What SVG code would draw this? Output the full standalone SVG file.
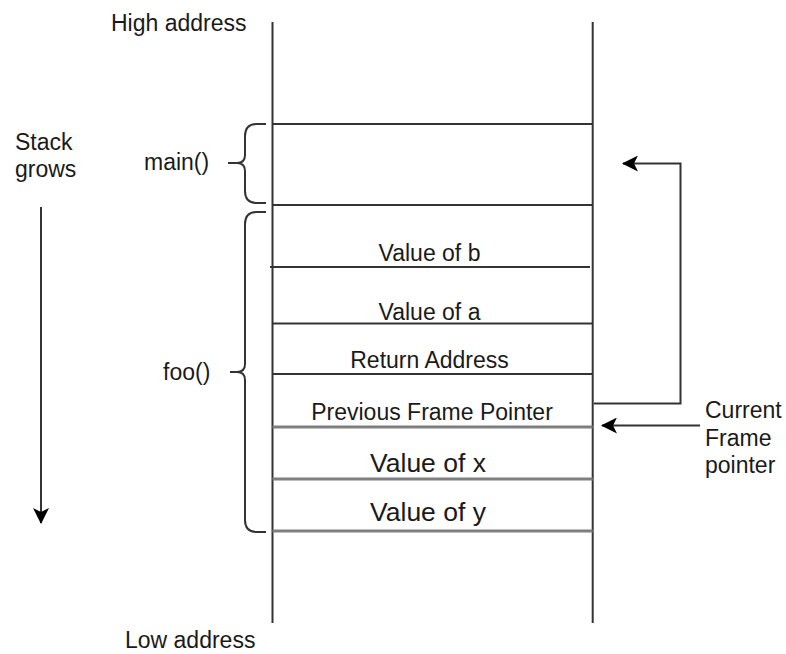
<svg xmlns="http://www.w3.org/2000/svg" width="786" height="654" viewBox="0 0 786 654">
<style>
text{font-family:"Liberation Sans",Arial,sans-serif;font-size:23px;fill:#1a1a1a}
.c{text-anchor:middle}
.ln{stroke:#333;stroke-width:2;fill:none}
.gl{stroke:#7f7f7f;stroke-width:3;fill:none}
.br{stroke:#333;stroke-width:2;fill:none}
</style>
<defs>
<marker id="ah" viewBox="0 0 16 16" refX="15" refY="8" markerWidth="16" markerHeight="16" markerUnits="userSpaceOnUse" orient="auto">
<path d="M0,0 L16,8 L0,16 L4,8 Z" fill="#000"/>
</marker>
</defs>
<rect width="786" height="654" fill="#fff"/>
<g id="stack">
<line class="ln" x1="272.5" y1="22" x2="272.5" y2="623"/>
<line class="ln" x1="592.7" y1="22" x2="592.7" y2="623"/>
</g>
<g id="main-frame">
<line class="ln" x1="272.5" y1="124" x2="592.7" y2="124"/>
<line class="ln" x1="272.5" y1="205" x2="592.7" y2="205"/>
</g>
<g id="value-b">
<line class="ln" x1="270" y1="267" x2="590" y2="267"/>
<text class="c" x="429.5" y="261">Value of b</text>
</g>
<g id="value-a">
<line class="ln" x1="272.5" y1="323.5" x2="592.7" y2="323.5"/>
<text class="c" x="429.5" y="320">Value of a</text>
</g>
<g id="return-address">
<line class="ln" x1="272.5" y1="374" x2="592.7" y2="374"/>
<text class="c" x="429.5" y="368">Return Address</text>
</g>
<g id="prev-frame-pointer">
<line class="gl" x1="272.5" y1="427" x2="592.7" y2="427"/>
<text class="c" x="432" y="420">Previous Frame Pointer</text>
</g>
<g id="value-x">
<line class="gl" x1="272.5" y1="479" x2="592.7" y2="479"/>
<text class="c" x="428" y="471.5" style="font-size:26.5px">Value of x</text>
</g>
<g id="value-y">
<line class="gl" x1="272.5" y1="531" x2="592.7" y2="531"/>
<text class="c" x="428" y="521" style="font-size:26.5px">Value of y</text>
</g>
<g id="high-address"><text x="111" y="31">High address</text></g>
<g id="low-address"><text x="125" y="648">Low address</text></g>
<g id="stack-grows">
<text x="15" y="150">Stack</text>
<text x="15" y="177">grows</text>
</g>
<g id="main-label">
<text x="144" y="170">main()</text>
<path class="br" d="M266,124 H257 Q245,124 245,136 V155 Q245,163 237,163 H228 M237,163 Q245,163 245,171 V191 Q245,203 257,203 H266"/>
</g>
<g id="foo-label">
<text x="163" y="380">foo()</text>
<path class="br" d="M266,212 H257 Q245,212 245,224 V364 Q245,372 237,372 H230 M237,372 Q245,372 245,380 V520 Q245,532 257,532 H266"/>
</g>
<g id="current-frame-pointer">
<text x="705" y="418">Current</text>
<text x="705" y="446">Frame</text>
<text x="705" y="473">pointer</text>
</g>
<g id="connectors">
<line class="ln" x1="41" y1="207" x2="41" y2="523" marker-end="url(#ah)"/>
<path class="ln" d="M593.7,403.5 H680.5 V163.5 H623" marker-end="url(#ah)"/>
<line class="ln" x1="700" y1="425.5" x2="602" y2="425.5" marker-end="url(#ah)"/>
</g>
</svg>
